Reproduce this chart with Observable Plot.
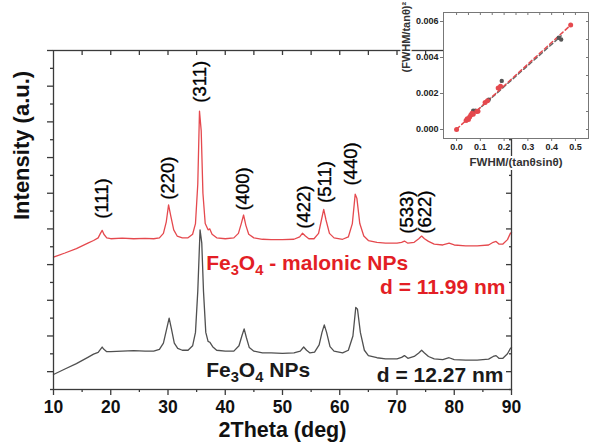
<!DOCTYPE html>
<html><head><meta charset="utf-8">
<script src="https://cdn.jsdelivr.net/npm/d3@7"></script>
<script src="https://cdn.jsdelivr.net/npm/@observablehq/plot@0.6"></script>
<style>
html,body{margin:0;padding:0;background:#fff;}
#wrap{position:relative;width:590px;height:446px;overflow:hidden;}
#inset{position:absolute;left:390px;top:0;}
#main svg, #inset svg{display:block;}
</style></head><body><div id="wrap"><div id="main"></div><div id="inset"></div></div>
<script>
// ---- Main XRD patterns ----
const malonicTheta = [10,12,14,16,17,17.8,18.2,18.5,18.8,19.3,20,22,24,26,27.5,28.5,29.2,29.7,30.1,30.5,31.0,31.6,32.5,33.5,34.3,34.8,35.2,35.5,35.8,36.1,36.5,37.0,37.3,37.7,38.5,40,41.5,42.3,42.8,43.2,43.6,44.1,45,46.5,48,50,52,53.0,53.5,54.0,54.6,55.5,56.3,56.8,57.2,57.6,58.2,59,60.5,61.5,62.2,62.7,63.0,63.5,64.2,65.0,66.5,68,70,70.8,71.3,71.9,73.0,73.8,74.3,74.8,75.5,76.5,78.0,79.1,80,82,84,86,86.8,87.3,87.8,88.5,89.3,89.8,90];
const malonicI = [7.42,7.65,7.9,8.2,8.35,8.5,8.75,8.92,8.7,8.5,8.45,8.48,8.45,8.47,8.45,8.5,8.75,9.4,10.35,9.7,8.95,8.6,8.5,8.5,8.7,9.3,11.5,15.6,14.5,11.0,9.3,8.95,9.0,8.7,8.5,8.45,8.5,8.75,9.3,9.78,9.2,8.7,8.5,8.42,8.4,8.4,8.42,8.55,8.76,8.6,8.45,8.45,8.75,9.5,10.1,9.5,8.75,8.5,8.42,8.55,9.3,10.95,10.7,9.3,8.6,8.35,8.25,8.2,8.2,8.25,8.32,8.2,8.25,8.45,8.6,8.45,8.3,8.15,8.1,8.2,8.1,8.05,8.05,8.1,8.25,8.3,8.15,8.15,8.4,8.75,8.8];
const bareTheta = [10,12,14,16,17,17.8,18.2,18.5,18.8,19.3,20,22,24,26,27.5,28.5,29.2,29.7,30.2,30.6,31.1,31.7,32.5,33.5,34.3,34.8,35.2,35.6,35.9,36.2,36.6,37.0,37.3,37.8,38.5,40,41.5,42.4,42.9,43.3,43.7,44.2,45,46.5,48,50,52,53.1,53.7,54.2,54.8,55.6,56.4,56.9,57.3,57.7,58.3,59,60.5,61.5,62.3,62.8,63.1,63.6,64.3,65.0,66.5,68,70,70.8,71.3,71.9,73.0,73.8,74.3,74.8,75.5,76.5,78.0,79.1,80,82,84,86,86.8,87.3,87.8,88.5,89.3,89.8,90];
const bareI = [0.84,1.15,1.45,1.8,1.98,2.08,2.25,2.38,2.25,2.12,2.12,2.15,2.18,2.15,2.15,2.25,2.6,3.3,4.0,3.4,2.6,2.3,2.2,2.2,2.45,3.2,5.5,8.95,8.2,5.5,3.2,2.7,2.65,2.4,2.2,2.15,2.15,2.45,3.0,3.4,2.9,2.35,2.15,2.05,2.05,2.02,2.05,2.15,2.38,2.2,2.05,2.1,2.5,3.2,3.62,3.2,2.4,2.15,2.05,2.2,3.0,4.6,4.5,3.2,2.2,1.9,1.78,1.72,1.72,1.8,1.9,1.75,1.85,2.05,2.2,2.05,1.85,1.72,1.68,1.78,1.68,1.65,1.65,1.7,1.85,1.9,1.75,1.75,2.0,2.3,2.35];

const xTickValues = [10,20,30,40,50,60,70,80,90];
const xMinorValues = [15,25,35,45,55,65,75,85];
const xTopValues = [15,20,25,30,35,40,45,50,55,60,65,70,75,80,85];
const yMajorValues = [1,3,5,7,9,11,13,15,17,19];
const yMinorValues = [0,2,4,6,8,10,12,14,16,18];

const peakLabels = ["(111)","(220)","(311)","(400)","(422)","(511)","(440)","(533)","(622)"];
const peakX = [18.5,30.05,35.66,43.2,53.8,57.5,62.0,71.8,74.9];
const peakY = [10.7,11.85,17.25,11.24,10.22,11.63,12.64,9.94,9.94];

const sampleNames = ["Fe3O4 - malonic NPs","Fe3O4 NPs"];
const sampleNameX = [36.67,36.67];
const sampleNameY = [7.08,1.07];
const sizeLabels = ["d = 11.99 nm","d = 12.27 nm"];
const sizeX = [88.95,88.6];
const sizeY = [5.72,0.78];
const labelColors = ["#e31e25","#1a1a1a"];

// ---- Inset (Williamson-Hall type) ----
const insetRedX = [0.0,0.04,0.045,0.05,0.055,0.06,0.065,0.07,0.085,0.09,0.12,0.13,0.175,0.185,0.48];
const insetRedY = [0.0,0.0005,0.0006,0.00055,0.0007,0.0008,0.0009,0.00085,0.001,0.00102,0.0015,0.0016,0.0023,0.0024,0.0058];
const insetGrayX = [0.07,0.08,0.135,0.19,0.43,0.44];
const insetGrayY = [0.00105,0.00105,0.00165,0.0027,0.0051,0.005];
const fitRedX = [0.0,0.48];
const fitRedY = [0.00002,0.0058];
const fitGrayX = [0.04,0.44];
const fitGrayY = [0.0005,0.0052];
const insetXTicks = [0,0.1,0.2,0.3,0.4,0.5];
const insetXMinor = [0.05,0.15,0.25,0.35,0.45];
const insetYTicks = [0,0.002,0.004,0.006];
const insetYMinor = [0.001,0.003,0.005];

const RED = "#e5494e", GRAY = "#505050", AX = "#3a3a3a";
const FONT = "'Liberation Sans', Arial, sans-serif";

const malonic = malonicTheta.map((t,i)=>({t, v: malonicI[i]}));
const bare = bareTheta.map((t,i)=>({t, v: bareI[i]}));

const main = Plot.plot({
  width: 590, height: 446,
  marginLeft: 53, marginRight: 79, marginTop: 50, marginBottom: 57,
  style: {fontFamily: FONT, background: "white", color: "#111", overflow: "visible"},
  x: {domain: [10, 90]},
  y: {domain: [0, 19]},
  marks: [
    Plot.line(bare, {x: "t", y: "v", stroke: GRAY, strokeWidth: 1.3}),
    Plot.line(malonic, {x: "t", y: "v", stroke: RED, strokeWidth: 1.3}),
    Plot.frame({stroke: AX, strokeWidth: 1.3}),
    Plot.axisX({anchor: "bottom", ticks: xTickValues, tickSize: 6, tickPadding: 5, fontSize: 17.5, fontWeight: "bold", label: null, stroke: AX, strokeWidth: 1.3}),
    Plot.axisX({anchor: "bottom", ticks: xMinorValues, tickSize: 3, tickFormat: () => "", label: null, stroke: AX, strokeWidth: 1.3}),
    Plot.axisX({anchor: "top", ticks: xTopValues, tickSize: -4, tickFormat: () => "", label: null, stroke: AX, strokeWidth: 1.3}),
    Plot.axisY({anchor: "left", ticks: yMajorValues, tickSize: 6, tickFormat: () => "", label: null, stroke: AX, strokeWidth: 1.3}),
    Plot.axisY({anchor: "left", ticks: yMinorValues, tickSize: 3, tickFormat: () => "", label: null, stroke: AX, strokeWidth: 1.3}),
    Plot.axisY({anchor: "right", ticks: yMajorValues, tickSize: -6, tickFormat: () => "", label: null, stroke: AX, strokeWidth: 1.3}),
    Plot.axisY({anchor: "right", ticks: yMinorValues, tickSize: -3, tickFormat: () => "", label: null, stroke: AX, strokeWidth: 1.3}),
    Plot.text(peakLabels, {x: (d,i) => peakX[i], y: (d,i) => peakY[i], text: d => d, rotate: -90, fontSize: 18.5, fill: "#000", stroke: "#000", strokeWidth: 0.35}),
    Plot.text(sampleNames, {x: (d,i) => sampleNameX[i], y: (d,i) => sampleNameY[i], text: d => d, textAnchor: "start", fontSize: 21, fontWeight: "bold", fill: (d,i) => labelColors[i]}),
    Plot.text(sizeLabels, {x: (d,i) => sizeX[i], y: (d,i) => sizeY[i], text: d => d, textAnchor: "end", fontSize: 21, fontWeight: "bold", fill: (d,i) => labelColors[i]}),
    Plot.text(["Intensity (a.u.)"], {frameAnchor: "left", dx: -32, rotate: -90, fontSize: 22, fontWeight: "bold", fill: "#111"}),
    Plot.text(["2Theta (deg)"], {frameAnchor: "bottom", dy: 47, fontSize: 21.5, fontWeight: "bold", fill: "#111"})
  ]
});
document.getElementById("main").append(main);

// subscripts for chemical formulas
d3.select(main).selectAll("text").each(function() {
  const t = this.textContent;
  if (t.startsWith("Fe3O4")) {
    const rest = t.slice(5);
    const s = d3.select(this);
    s.text(null);
    s.append("tspan").text("Fe");
    s.append("tspan").attr("font-size", "70%").attr("dy", "5").text("3");
    s.append("tspan").attr("dy", "-5").text("O");
    s.append("tspan").attr("font-size", "70%").attr("dy", "5").text("4");
    s.append("tspan").attr("dy", "-5").text(rest);
  }
});

const insetPlot = Plot.plot({
  width: 200, height: 180,
  marginLeft: 53, marginRight: 2, marginTop: 12, marginBottom: 42,
  style: {fontFamily: FONT, background: "transparent", color: "#222", overflow: "visible"},
  x: {domain: [-0.055, 0.555]},
  y: {domain: [-0.0005, 0.0065]},
  marks: [
    Plot.frame({fill: "white", stroke: "#777", strokeWidth: 1}),
    Plot.line(fitGrayX.map((x,i)=>({x, y: fitGrayY[i]})), {x: "x", y: "y", stroke: "#666", strokeWidth: 1.5, strokeDasharray: "4,3"}),
    Plot.line(fitRedX.map((x,i)=>({x, y: fitRedY[i]})), {x: "x", y: "y", stroke: RED, strokeWidth: 1.5, strokeDasharray: "4,3"}),
    Plot.dot(insetGrayX.map((x,i)=>({x, y: insetGrayY[i]})), {x: "x", y: "y", r: 2.2, fill: "#555", stroke: "none"}),
    Plot.dot(insetRedX.map((x,i)=>({x, y: insetRedY[i]})), {x: "x", y: "y", r: 2.5, fill: RED, stroke: "none"}),
    Plot.axisX({anchor: "bottom", ticks: insetXTicks, tickSize: 3, tickPadding: 2, tickFormat: d3.format(".1f"), fontSize: 9, fontWeight: "bold", label: null, stroke: "#777"}),
    Plot.axisX({anchor: "top", ticks: insetXMinor.concat(insetXTicks), tickSize: -2, tickFormat: () => "", label: null, stroke: "#777"}),
    Plot.axisY({anchor: "left", ticks: insetYTicks, tickSize: 3, tickPadding: 2, tickFormat: d3.format(".3f"), fontSize: 9, fontWeight: "bold", label: null, stroke: "#777"}),
    Plot.axisY({anchor: "right", ticks: insetYMinor.concat(insetYTicks), tickSize: -3, tickFormat: () => "", label: null, stroke: "#777"}),
    Plot.text(["(FWHM/tanθ)²"], {frameAnchor: "left", dx: -37, dy: -3, rotate: -90, fontSize: 11, fontWeight: "bold", fill: "#333", stroke: "white", strokeWidth: 3, paintOrder: "stroke"}),
    Plot.text(["FWHM/(tanθsinθ)"], {frameAnchor: "bottom", dy: 27, fontSize: 11.5, fontWeight: "bold", fill: "#333", stroke: "white", strokeWidth: 4, paintOrder: "stroke"})
  ]
});
document.getElementById("inset").append(insetPlot);
</script>
</body></html>
